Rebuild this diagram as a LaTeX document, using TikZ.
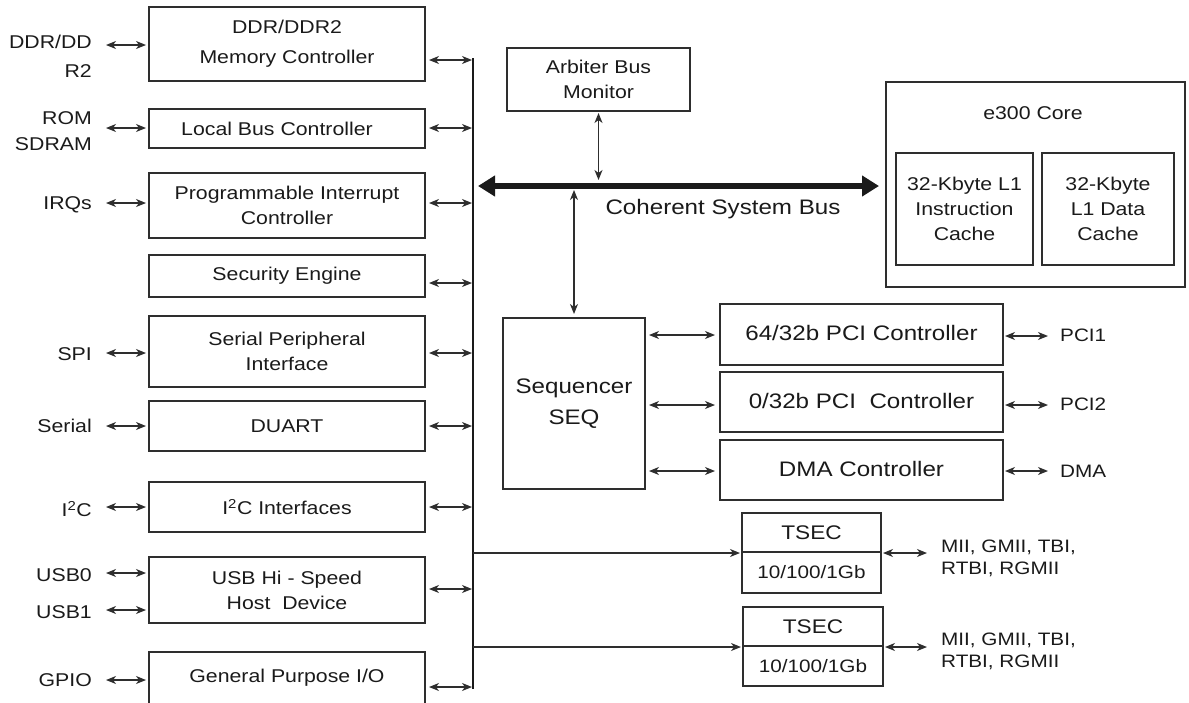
\documentclass[tikz,border=0pt]{standalone}
\usepackage{fontspec}
\setmainfont{Liberation Sans}[FakeStretch=1.15]
\usetikzlibrary{arrows.meta}
\definecolor{ink}{HTML}{1A1A1A}
\definecolor{edge}{HTML}{2E2E2E}
\newcommand\fsA{\fontsize{18.5}{25}\selectfont}
\newcommand\fsB{\fontsize{21}{28}\selectfont}
\newcommand\fsC{\fontsize{18}{22}\selectfont}
\newcommand\fsD{\fontsize{18.5}{30}\selectfont}
\newcommand\fsE{\fontsize{21}{31}\selectfont}
\newcommand\fsF{\fontsize{19.7}{24}\selectfont}
\begin{document}
\begin{tikzpicture}[x=1pt,y=-1pt,
  box/.style={draw=edge, line width=2pt, inner sep=0pt, align=center, font=\fsA, text=ink},
  lab/.style={inner sep=0pt, font=\fsA, text=ink},
  dbl/.style={draw=edge, line width=1.3pt, arrows={Stealth[length=10pt,width=8pt,inset=3pt]-Stealth[length=10pt,width=8pt,inset=3pt]}},
  one/.style={draw=edge, line width=1.3pt, arrows={-Stealth[length=10pt,width=8pt,inset=3pt]}}
]
\useasboundingbox (0,0) rectangle (1189,702);
\clip (0,0) rectangle (1189,702);

% left column boxes
\node[box, minimum width=276pt, minimum height=74pt, font=\fsD] (ddr) at (287,44) {DDR/DDR2\\Memory Controller};
\node[box, minimum width=276pt, minimum height=39pt] (lbc) at (287,128.5) {Local Bus Controller\hspace*{20pt}};
\node[box, minimum width=276pt, minimum height=65pt] (pic) at (287,205.5) {Programmable Interrupt\\Controller};
\node[box, minimum width=276pt, minimum height=42pt] (sec) at (287,276) {Security Engine};
\node[box, minimum width=276pt, minimum height=71pt] (spi) at (287,351.5) {Serial Peripheral\\Interface};
\node[box, minimum width=276pt, minimum height=50pt] (duart) at (287,426) {DUART};
\node[box, minimum width=276pt, minimum height=50pt] (i2c) at (287,507) {I\textsuperscript{2}C Interfaces};
\node[box, minimum width=276pt, minimum height=66pt] (usb) at (287,590) {USB Hi - Speed\\Host\ \ Device};
\node[box, minimum width=276pt, minimum height=52pt] (gpio) at (287,678) {General Purpose I/O};

% left labels
\node[lab, anchor=east] (ddrl1) at (92,42) {DDR/DD};
\node[lab, anchor=east] (ddrl2) at (92,71) {R2};
\node[lab, anchor=east] (roml) at (92,118) {ROM};
\node[lab, anchor=east] (sdraml) at (92,144) {SDRAM};
\node[lab, anchor=east] (irql) at (92,205) {IRQs};
\node[lab, anchor=east] (spil) at (92,354) {SPI};
\node[lab, anchor=east] (serl) at (92,426) {Serial};
\node[lab, anchor=east] (i2cl) at (92,509) {I\textsuperscript{2}C};
\node[lab, anchor=east] (usb0l) at (92,575) {USB0};
\node[lab, anchor=east] (usb1l) at (92,612) {USB1};
\node[lab, anchor=east] (gpiol) at (92,680) {GPIO};

% left arrows
\begin{scope}[every path/.style={dbl, shorten <=14pt, shorten >=2pt}]
\draw (ddrl1.east |- 0,45) -- (ddr.west |- 0,45);
\draw (roml.east |- 0,128) -- (lbc.west |- 0,128);
\draw (irql.east |- 0,203) -- (pic.west |- 0,203);
\draw (spil.east |- 0,353) -- (spi.west |- 0,353);
\draw (serl.east |- 0,426) -- (duart.west |- 0,426);
\draw (i2cl.east |- 0,507) -- (i2c.west |- 0,507);
\draw (usb0l.east |- 0,573) -- (usb.west |- 0,573);
\draw (usb1l.east |- 0,610) -- (usb.west |- 0,610);
\draw (gpiol.east |- 0,680) -- (gpio.west |- 0,680);
\end{scope}

% vertical bus
\coordinate (busT) at (473,58);
\coordinate (busB) at (473,689);
\draw[line width=2pt, ink] (busT) -- (busB);

% right arrows to bus
\begin{scope}[every path/.style={dbl, shorten <=3pt, shorten >=1pt}]
\draw (ddr.east |- 0,60) -- (busT |- 0,60);
\draw (lbc.east |- 0,128) -- (busT |- 0,128);
\draw (pic.east |- 0,203) -- (busT |- 0,203);
\draw (sec.east |- 0,283) -- (busT |- 0,283);
\draw (spi.east |- 0,353) -- (busT |- 0,353);
\draw (duart.east |- 0,426) -- (busT |- 0,426);
\draw (i2c.east |- 0,507) -- (busT |- 0,507);
\draw (usb.east |- 0,589) -- (busT |- 0,589);
\draw (gpio.east |- 0,687) -- (busT |- 0,687);
\end{scope}

% core
\node[box, minimum width=299pt, minimum height=205pt] (core) at (1035.5,184.5) {};
\node[lab] (coret) at (1033,113) {e300 Core};
\node[box, minimum width=137pt, minimum height=112pt] (ic) at (964.5,209) {32-Kbyte L1\\Instruction\\Cache};
\node[box, minimum width=132pt, minimum height=112pt] (dc) at (1108,209) {32-Kbyte\\L1 Data\\Cache};

% coherent system bus
\draw[line width=5.5pt, ink, arrows={Triangle[length=17pt,width=20pt]-Triangle[length=17pt,width=20pt]}, shorten <=5pt, shorten >=6pt] (busT |- 0,186) -- (core.west |- 0,186);
\node[lab, font=\fsB] (csbt) at (723,209) {Coherent System Bus};

% arbiter
\node[box, minimum width=183pt, minimum height=63pt] (arb) at (598.5,79.5) {Arbiter Bus\\Monitor};
\coordinate (arbB) at (598.5,180);
\draw[dbl, shorten <=1pt] (arb.south) -- (arbB);

% sequencer
\node[box, minimum width=142pt, minimum height=171pt, font=\fsE] (seq) at (574,403.5) {Sequencer\\SEQ};
\coordinate (seqT) at (574,190);
\draw[dbl, shorten >=3pt] (seqT) -- (seq.north);

% PCI / DMA
\node[box, minimum width=283pt, minimum height=61pt, font=\fsB] (pci1) at (861.5,334.5) {\raisebox{3pt}{64/32b PCI Controller}};
\node[box, minimum width=283pt, minimum height=60pt, font=\fsB] (pci2) at (861.5,402) {\raisebox{3pt}{0/32b PCI\ \ Controller}};
\node[box, minimum width=283pt, minimum height=60pt, font=\fsB] (dma) at (861.5,470) {\raisebox{3pt}{DMA Controller}};

\begin{scope}[every path/.style={dbl, shorten <=3pt, shorten >=4pt}]
\draw (seq.east |- 0,335) -- (pci1.west |- 0,335);
\draw (seq.east |- 0,405) -- (pci2.west |- 0,405);
\draw (seq.east |- 0,471) -- (dma.west |- 0,471);
\end{scope}

\node[lab, font=\fsC, anchor=west] (pci1l) at (1060,335) {PCI1};
\node[lab, font=\fsC, anchor=west] (pci2l) at (1060,404) {PCI2};
\node[lab, font=\fsC, anchor=west] (dmal) at (1060,471) {DMA};
\begin{scope}[every path/.style={dbl, shorten <=1pt, shorten >=12pt}]
\draw (pci1.east |- 0,336) -- (pci1l.west |- 0,336);
\draw (pci2.east |- 0,405) -- (pci2l.west |- 0,405);
\draw (dma.east |- 0,471) -- (dmal.west |- 0,471);
\end{scope}

% TSEC
\node[box, minimum width=139pt, minimum height=39pt, font=\fsF] (t1a) at (811.5,532.5) {TSEC};
\node[box, minimum width=139pt, minimum height=41pt, font=\fsC] (t1b) at (811.5,572.5) {10/100/1Gb};
\node[box, minimum width=140pt, minimum height=39pt, font=\fsF] (t2a) at (813,626.5) {TSEC};
\node[box, minimum width=140pt, minimum height=40pt, font=\fsC] (t2b) at (813,666) {10/100/1Gb};

\draw[one, shorten >=1pt] (busT |- t1a.south west) -- (t1a.south west);
\draw[one, shorten >=1pt] (busT |- t2a.south west) -- (t2a.south west);

\node[lab, font=\fsC, anchor=west, align=left] (m1) at (941,558) {MII, GMII, TBI,\\RTBI, RGMII};
\node[lab, font=\fsC, anchor=west, align=left] (m2) at (941,651) {MII, GMII, TBI,\\RTBI, RGMII};
\draw[dbl, shorten <=1pt, shorten >=14pt] (t1a.south east) -- (m1.west |- t1a.south east);
\draw[dbl, shorten <=1pt, shorten >=14pt] (t2a.south east) -- (m2.west |- t2a.south east);
\end{tikzpicture}
\end{document}
